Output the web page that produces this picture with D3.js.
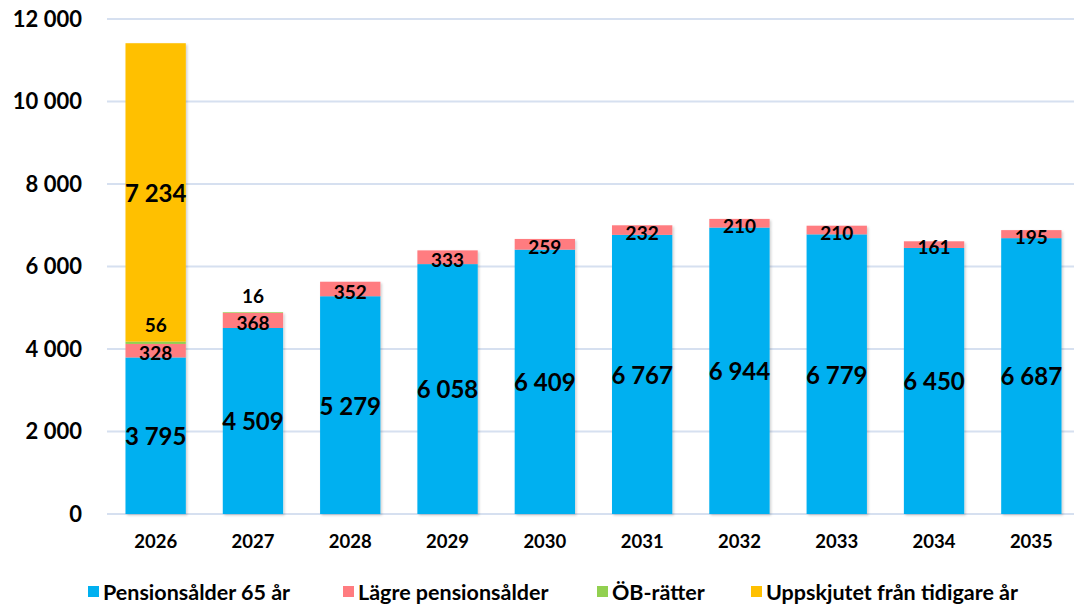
<!DOCTYPE html>
<html>
<head>
<meta charset="utf-8">
<script src="https://cdn.jsdelivr.net/npm/d3@7"></script>
<style>
  body { margin: 0; background: #fff; }
  svg text { font-family: Lato, "Open Sans", sans-serif; font-weight: bold; fill: #000; }
</style>
</head>
<body>
<div id="chart"></div>
<script>
// data
const years = ["2026", "2027", "2028", "2029", "2030", "2031", "2032", "2033", "2034", "2035"];
const pension65 = [3795, 4509, 5279, 6058, 6409, 6767, 6944, 6779, 6450, 6687];
const lagrePension = [328, 368, 352, 333, 259, 232, 210, 210, 161, 195];
const obRatter = [56, 16, 0, 0, 0, 0, 0, 0, 0, 0];
const uppskjutet = [7234, 0, 0, 0, 0, 0, 0, 0, 0, 0];
const seriesNames = ["Pensionsålder 65 år", "Lägre pensionsålder", "ÖB-rätter", "Uppskjutet från tidigare år"];
const yTicks = [0, 2000, 4000, 6000, 8000, 10000, 12000];

const colors = ["#00B0F0", "#FF7C80", "#92D050", "#FFC000"];

let width = 1074, height = 605;
let margin = {top: 19, bottom: 91, left: 107, right: -6};

let svg = d3.select("#chart")
    .append("svg")
    .attr("width", width)
    .attr("height", height);

// soft shadow like the original
let defs = svg.append("defs");
let f = defs.append("filter").attr("id", "shadow").attr("x", "-10%").attr("y", "-10%").attr("width", "130%").attr("height", "130%");
f.append("feDropShadow").attr("dx", 1.5).attr("dy", 1.5).attr("stdDeviation", 1.2).attr("flood-color", "#000").attr("flood-opacity", 0.18);

let x = d3.scaleBand()
    .range([margin.left, width - margin.right])
    .domain(years)
    .paddingInner(0.38)
    .paddingOuter(0.19);

let y = d3.scaleLinear()
    .range([height - margin.bottom, margin.top])
    .domain([0, 12000]);

let fmt = v => d3.format(",")(v).replace(/,/g, " ");

// gridlines
svg.append("g")
    .selectAll("line")
    .data(yTicks)
    .enter()
    .append("line")
    .attr("x1", margin.left)
    .attr("x2", width)
    .attr("y1", d => y(d))
    .attr("y2", d => y(d))
    .style("stroke", "#D6E0F0")
    .style("stroke-width", 2);

// y labels
svg.append("g")
    .selectAll("text")
    .data(yTicks)
    .enter()
    .append("text")
    .attr("x", 82)
    .attr("y", d => y(d))
    .attr("dy", "0.35em")
    .attr("text-anchor", "end")
    .style("font-size", "22px")
    .text(d => fmt(d));

// x labels
svg.append("g")
    .selectAll("text")
    .data(years)
    .enter()
    .append("text")
    .attr("x", d => x(d) + x.bandwidth() / 2)
    .attr("y", 542)
    .attr("dy", "0.35em")
    .attr("text-anchor", "middle")
    .style("font-size", "18.5px")
    .text(d => d);

// stack
let table = years.map((yr, i) => ({
    year: yr, s0: pension65[i], s1: lagrePension[i], s2: obRatter[i], s3: uppskjutet[i]
}));
let stack = d3.stack().keys(["s0", "s1", "s2", "s3"])(table);

let bars = svg.append("g").attr("filter", "url(#shadow)");
stack.forEach((layer, k) => {
    bars.selectAll(null)
        .data(layer.filter(d => d[1] - d[0] > 0))
        .enter()
        .append("rect")
        .attr("x", d => x(d.data.year))
        .attr("width", x.bandwidth())
        .attr("y", d => y(d[1]))
        .attr("height", d => y(d[0]) - y(d[1]))
        .style("fill", colors[k]);
});

// labels
let labels = svg.append("g");
stack.forEach((layer, k) => {
    labels.selectAll(null)
        .data(layer.filter(d => d[1] - d[0] > 0))
        .enter()
        .append("text")
        .attr("x", d => x(d.data.year) + x.bandwidth() / 2)
        .attr("y", d => {
            if (k === 2) return y(d[1]) - 16;
            if (k === 1) return (y(d[0]) + y(d[1])) / 2 + 3;
            return (y(d[0]) + y(d[1])) / 2 + 1;
        })
        .attr("dy", "0.35em")
        .attr("text-anchor", "middle")
        .style("font-size", k === 0 || k === 3 ? "24px" : "19px")
        .text(d => fmt(d[1] - d[0]));
});

// legend
let legendX = [88, 343, 597, 751];
let legend = svg.append("g");
seriesNames.forEach((name, i) => {
    legend.append("rect")
        .attr("x", legendX[i])
        .attr("y", 586)
        .attr("width", 11)
        .attr("height", 11)
        .style("fill", colors[i]);
    legend.append("text")
        .attr("x", legendX[i] + 15)
        .attr("y", 592)
        .attr("dy", "0.35em")
        .style("font-size", "21.5px")
        .text(name);
});
</script>
</body>
</html>
